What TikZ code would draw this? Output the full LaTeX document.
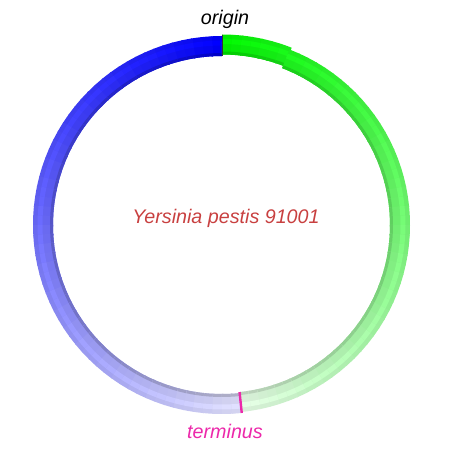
\documentclass[tikz,border=0pt]{standalone}
\usepackage{fontspec}
\setmainfont{Liberation Sans}
\definecolor{titlered}{RGB}{200,64,64}
\definecolor{termcol}{RGB}{236,40,170}
\definecolor{greenbase}{RGB}{0,250,0}
\begin{document}
\begin{tikzpicture}[x=1pt,y=1pt,
  seg/.style={line width=20pt},
  inedge/.style={line width=3pt},
  hilite/.style={line width=5pt},
  lbl/.style={font=\fontsize{19.7}{22}\selectfont\itshape}]
\useasboundingbox (0,0) rectangle (450,450);
\coordinate (c) at (222,225);
% blue half (counterclockwise from origin to terminus)
\foreach \i in {0,...,61} {
  \pgfmathsetmacro\a{90+\i*3}
  \pgfmathsetmacro\b{min(\a+3.5,276)}
  \pgfmathtruncatemacro\p{100-\i*88/61}
  \colorlet{cc}{blue!\p!white}
  \draw[seg,cc!94!black] ([shift={(\a:179)}]c) arc[start angle=\a,end angle=\b,radius=179];
  \draw[hilite,cc] ([shift={(\a:182)}]c) arc[start angle=\a,end angle=\b,radius=182];
  \draw[inedge,cc!78!black] ([shift={(\a:170.5)}]c) arc[start angle=\a,end angle=\b,radius=170.5];
}
% green half (clockwise from origin to terminus)
\foreach \i in {0,...,57} {
  \pgfmathsetmacro\a{90-\i*3}
  \pgfmathsetmacro\b{max(\a-3.5,-84)}
  \pgfmathtruncatemacro\p{100-\i*90/57}
  \pgfmathsetmacro\r{ifthenelse(\i<7,180.5,178)}
  \colorlet{cc}{greenbase!\p!white}
  \draw[seg,cc!94!black] ([shift={(\a:\r)}]c) arc[start angle=\a,end angle=\b,radius=\r];
  \draw[hilite,cc] ([shift={(\a:\r+3)}]c) arc[start angle=\a,end angle=\b,radius=\r+3];
  \draw[inedge,cc!82!black] ([shift={(\a:\r-8.5)}]c) arc[start angle=\a,end angle=\b,radius=\r-8.5];
}
% origin divider
\draw[line width=0.8pt,black!80] ([shift={(90:169)}]c) -- ([shift={(90:190)}]c);
% terminus tick
\draw[line width=2.4pt,termcol] ([shift={(-84:168)}]c) -- ([shift={(-84:189)}]c);
% labels
\node[lbl,black] (orig) at (225,431) {origin};
\node[lbl,titlered] (title) at (226,232) {Yersinia pestis 91001};
\node[lbl,termcol] (term) at (225,19) {terminus};
\end{tikzpicture}
\end{document}
